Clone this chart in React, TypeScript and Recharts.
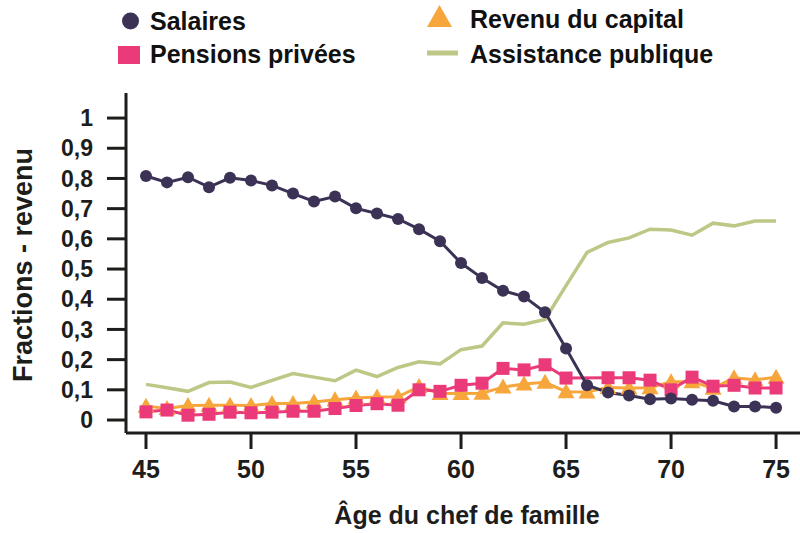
import React from 'react';
import { LineChart, Line, XAxis, YAxis } from 'recharts';

const ages = [45, 46, 47, 48, 49, 50, 51, 52, 53, 54, 55, 56, 57, 58, 59, 60, 61, 62, 63, 64, 65, 66, 67, 68, 69, 70, 71, 72, 73, 74, 75];

const salaires = [0.808, 0.787, 0.804, 0.771, 0.802, 0.793, 0.777, 0.75, 0.724, 0.74, 0.701, 0.684, 0.666, 0.632, 0.592, 0.52, 0.47, 0.428, 0.409, 0.357, 0.237, 0.115, 0.091, 0.081, 0.069, 0.071, 0.067, 0.064, 0.045, 0.045, 0.041];

const pensions: (number | null)[] = [0.027, 0.033, 0.016, 0.019, 0.026, 0.024, 0.026, 0.029, 0.029, 0.038, 0.048, 0.054, 0.049, 0.1, 0.095, 0.115, 0.122, 0.171, 0.166, 0.183, 0.139, null, 0.14, 0.14, 0.132, 0.1, 0.142, 0.112, 0.115, 0.106, 0.106];

const capital = [0.046, 0.038, 0.048, 0.049, 0.049, 0.048, 0.055, 0.055, 0.06, 0.067, 0.073, 0.076, 0.077, 0.111, 0.088, 0.088, 0.089, 0.109, 0.119, 0.125, 0.094, 0.093, 0.108, 0.106, 0.107, 0.127, 0.127, 0.105, 0.14, 0.133, 0.142];

const assistance = [0.118, 0.107, 0.095, 0.124, 0.126, 0.108, 0.131, 0.154, 0.142, 0.13, 0.165, 0.144, 0.174, 0.193, 0.186, 0.233, 0.245, 0.322, 0.317, 0.333, 0.445, 0.555, 0.588, 0.603, 0.632, 0.629, 0.612, 0.652, 0.643, 0.659, 0.659];

const xTicks = [45, 50, 55, 60, 65, 70, 75];
const yTicks = [0, 0.1, 0.2, 0.3, 0.4, 0.5, 0.6, 0.7, 0.8, 0.9, 1];

const seriesNames = {
  salaires: 'Salaires',
  pensions: 'Pensions privées',
  capital: 'Revenu du capital',
  assistance: 'Assistance publique',
};

const xLabel = 'Âge du chef de famille';
const yLabel = 'Fractions - revenu';

const data = ages.map((age, i) => ({
  age,
  salaires: salaires[i],
  pensions: pensions[i],
  capital: capital[i],
  assistance: assistance[i],
}));

const NAVY = '#3b3256';
const PINK = '#eb3a79';
const ORANGE = '#f7a63c';
const GREEN = '#bec786';
const INK = '#1d1d1b';
const FONT = '"Liberation Sans", Arial, Helvetica, sans-serif';

const CircleDot = (props: any) => {
  const { cx, cy, index } = props;
  if (cx == null || cy == null) return <g key={`c${index}`} />;
  return <circle key={`c${index}`} cx={cx} cy={cy} r={6} fill={NAVY} />;
};

const SquareDot = (props: any) => {
  const { cx, cy, index } = props;
  if (cx == null || cy == null) return <g key={`s${index}`} />;
  return <rect key={`s${index}`} x={cx - 6.5} y={cy - 6.5} width={13} height={13} fill={PINK} />;
};

const TriangleDot = (props: any) => {
  const { cx, cy, index } = props;
  if (cx == null || cy == null) return <g key={`t${index}`} />;
  const w = 17;
  const h = 15;
  return (
    <polygon
      key={`t${index}`}
      points={`${cx},${cy - h / 2 - 1} ${cx + w / 2},${cy + h / 2 - 1} ${cx - w / 2},${cy + h / 2 - 1}`}
      fill={ORANGE}
    />
  );
};

const YLabel = () => (
  <text
    x={32}
    y={265}
    transform="rotate(-90 32 265)"
    textAnchor="middle"
    fontFamily={FONT}
    fontWeight="bold"
    fontSize={27}
    fill={INK}
  >
    {yLabel}
  </text>
);

const XLabel = () => (
  <text
    x={467}
    y={524}
    textAnchor="middle"
    fontFamily={FONT}
    fontWeight="bold"
    fontSize={25}
    fill={INK}
  >
    {xLabel}
  </text>
);

const LegendOverlay = () => (
  <svg
    width={800}
    height={80}
    style={{ position: 'absolute', left: 0, top: 0, pointerEvents: 'none' }}
  >
    <g fontFamily={FONT} fontWeight="bold" fontSize={25} fill="#111">
      <circle cx={130.5} cy={21} r={8.5} fill={NAVY} />
      <text x={150} y={30}>{seriesNames.salaires}</text>
      <rect x={118} y={46} width={22} height={18} fill={PINK} />
      <text x={150} y={63}>{seriesNames.pensions}</text>
      <polygon points="439.5,5 452,27 427,27" fill={ORANGE} />
      <text x={470} y={28}>{seriesNames.capital}</text>
      <line x1={427} y1={53} x2={458} y2={53} stroke={GREEN} strokeWidth={5} />
      <text x={470} y={63}>{seriesNames.assistance}</text>
    </g>
  </svg>
);

export default function App() {
  const tickStyle = { fill: INK, fontSize: 25, fontWeight: 'bold' as const, fontFamily: FONT };
  const yTickStyle = { fill: INK, fontSize: 23, fontWeight: 'bold' as const, fontFamily: FONT };
  const axisStroke = { stroke: INK, strokeWidth: 3 };
  return (
    <div style={{ position: 'absolute', left: 0, top: 0, width: 800, height: 533, background: '#fff' }}>
      <LineChart
        width={800}
        height={533}
        data={data}
        margin={{ top: 93, right: 0, bottom: 0, left: 66 }}
      >
        <XAxis
          dataKey="age"
          type="number"
          domain={[44.048, 76.14]}
          allowDataOverflow
          ticks={xTicks}
          interval={0}
          height={100}
          tickSize={16}
          tickMargin={11}
          tick={tickStyle}
          axisLine={axisStroke}
          tickLine={axisStroke}
          label={<XLabel />}
        />
        <YAxis
          type="number"
          domain={[-0.043, 1.083]}
          allowDataOverflow
          ticks={yTicks}
          interval={0}
          width={60}
          tickSize={19}
          tickMargin={14}
          tick={yTickStyle}
          tickFormatter={(v: number) => String(Math.round(v * 10) / 10).replace('.', ',')}
          axisLine={axisStroke}
          tickLine={axisStroke}
          label={<YLabel />}
        />
        <Line
          dataKey="assistance"
          name={seriesNames.assistance}
          type="linear"
          stroke={GREEN}
          strokeWidth={3.5}
          dot={false}
          activeDot={false}
          isAnimationActive={false}
        />
        <Line
          dataKey="capital"
          name={seriesNames.capital}
          type="linear"
          stroke={ORANGE}
          strokeWidth={3}
          dot={TriangleDot}
          activeDot={false}
          isAnimationActive={false}
        />
        <Line
          dataKey="pensions"
          name={seriesNames.pensions}
          type="linear"
          stroke={PINK}
          strokeWidth={3}
          connectNulls
          dot={SquareDot}
          activeDot={false}
          isAnimationActive={false}
        />
        <Line
          dataKey="salaires"
          name={seriesNames.salaires}
          type="linear"
          stroke={NAVY}
          strokeWidth={3}
          dot={CircleDot}
          activeDot={false}
          isAnimationActive={false}
        />
      </LineChart>
      <LegendOverlay />
    </div>
  );
}
